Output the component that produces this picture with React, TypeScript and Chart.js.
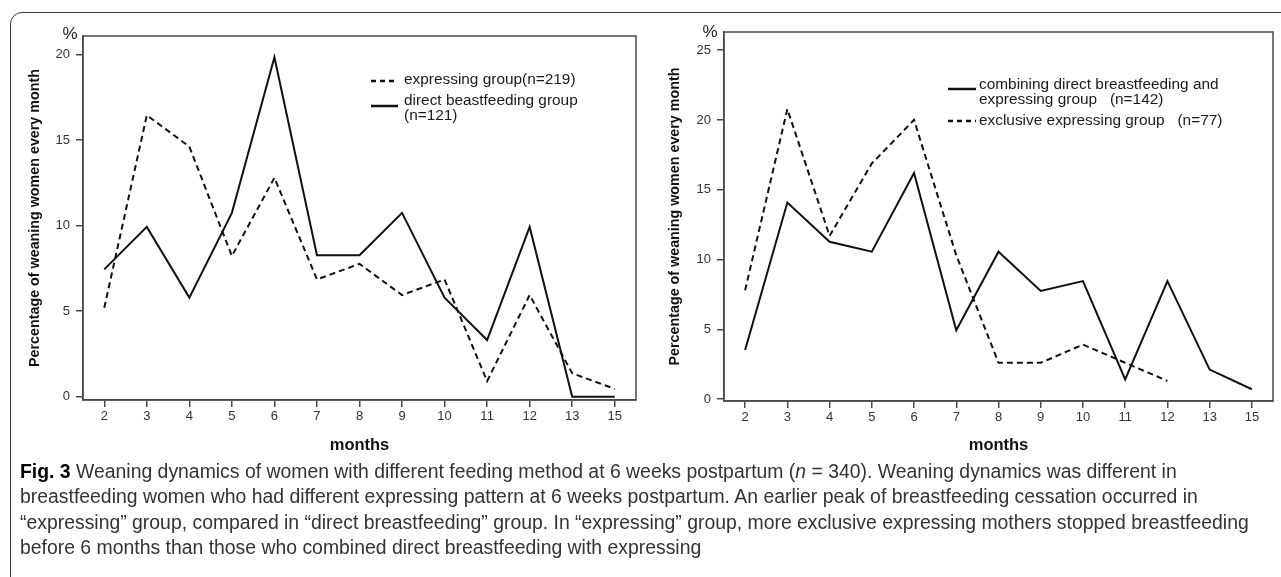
import React, { useEffect, useRef } from "react";
import { Chart, registerables } from "chart.js";

Chart.register(...registerables);

// ---------- data ----------
const months = ["2", "3", "4", "5", "6", "7", "8", "9", "10", "11", "12", "13", "15"];

// left panel (n = 340)
const expressingGroup = [5.2, 16.44, 14.61, 8.22, 12.79, 6.85, 7.76, 5.94, 6.85, 0.91, 5.94, 1.37, 0.46];
const directGroup = [7.44, 9.92, 5.79, 10.74, 19.83, 8.26, 8.26, 10.74, 5.79, 3.31, 9.92, 0, 0];

// right panel (expressing group split)
const combiningGroup = [3.52, 14.08, 11.27, 10.56, 16.2, 4.93, 10.56, 7.75, 8.45, 1.41, 8.45, 2.11, 0.7];
const exclusiveGroup: (number | null)[] = [7.79, 20.78, 11.69, 16.88, 20.0, 10.3, 2.6, 2.6, 3.9, 2.6, 1.3, null, null];

const leftYTicks = [0, 5, 10, 15, 20];
const rightYTicks = [0, 5, 10, 15, 20, 25];

const yTitle = "Percentage of weaning women every month";
const xTitle = "months";

const leftLegend = [
  { label: ["expressing group(n=219)"], dashed: true },
  { label: ["direct beastfeeding group", "(n=121)"], dashed: false },
];
const rightLegend = [
  { label: ["combining direct breastfeeding and", "expressing group   (n=142)"], dashed: false },
  { label: ["exclusive expressing group   (n=77)"], dashed: true },
];

// ---------- styling ----------
const FONT = "'Liberation Sans', Arial, Helvetica, sans-serif";
const AXIS = "#4a4a4a";
const LINE = "#111111";
const DASH = [6, 4];

type LegendItem = {
  x1: number; x2: number; y: number; dashed: boolean;
  textX: number; lines: { text: string; y: number }[];
};

const overlayPlugin = {
  id: "overlay",
  afterDraw(chart: any, _args: any, opts: any) {
    const { ctx, chartArea } = chart;
    ctx.save();
    ctx.strokeStyle = AXIS;
    ctx.lineWidth = 1.5;
    ctx.strokeRect(chartArea.left, chartArea.top, chartArea.right - chartArea.left, chartArea.bottom - chartArea.top);
    ctx.fillStyle = "#222";
    ctx.font = `17px ${FONT}`;
    ctx.textAlign = "center";
    ctx.textBaseline = "middle";
    ctx.fillText("%", opts.percent.x, opts.percent.y);
    const items: LegendItem[] = opts.legend || [];
    items.forEach((it) => {
      ctx.beginPath();
      ctx.strokeStyle = LINE;
      ctx.lineWidth = 2.5;
      ctx.setLineDash(it.dashed ? [5, 4] : []);
      ctx.moveTo(it.x1, it.y);
      ctx.lineTo(it.x2, it.y);
      ctx.stroke();
      ctx.setLineDash([]);
      ctx.fillStyle = "#1a1a1a";
      ctx.font = `15.4px ${FONT}`;
      ctx.textAlign = "left";
      ctx.textBaseline = "middle";
      it.lines.forEach((ln) => ctx.fillText(ln.text, it.textX, ln.y));
    });
    ctx.restore();
  },
};

function makeConfig(p: {
  solid: (number | null)[]; dashed: (number | null)[];
  solidLabel: string; dashedLabel: string;
  yMin: number; yMax: number; yTicks: number[];
  padding: { top: number; right: number; left: number; bottom: number };
  yWidth: number; xHeight: number;
  percent: { x: number; y: number }; legend: LegendItem[];
}) {
  const tickFont = { family: FONT, size: 13 };
  return {
    type: "line" as const,
    data: {
      labels: months,
      datasets: [
        {
          label: p.dashedLabel, data: p.dashed, borderColor: LINE, borderWidth: 2,
          borderDash: DASH, pointRadius: 0, tension: 0, fill: false, spanGaps: false,
        },
        {
          label: p.solidLabel, data: p.solid, borderColor: LINE, borderWidth: 2,
          pointRadius: 0, tension: 0, fill: false, spanGaps: false,
        },
      ],
    },
    options: {
      animation: false,
      responsive: false,
      maintainAspectRatio: false,
      devicePixelRatio: 1,
      layout: { padding: p.padding },
      plugins: {
        legend: { display: false },
        tooltip: { enabled: false },
        overlay: { percent: p.percent, legend: p.legend },
      },
      scales: {
        x: {
          type: "category",
          offset: true,
          grid: { display: true, drawOnChartArea: false, drawTicks: true, tickLength: 7, color: AXIS, lineWidth: 1.5, offset: false },
          border: { display: true, color: AXIS, width: 1.5 },
          ticks: { color: "#333", font: tickFont, padding: 2, maxRotation: 0, autoSkip: false },
          title: { display: true, text: xTitle, color: "#111", font: { family: FONT, size: 16.5, weight: "bold" }, padding: { top: 0, bottom: 4.3 } },
          afterFit: (s: any) => { s.height = p.xHeight; },
        },
        y: {
          type: "linear",
          min: p.yMin,
          max: p.yMax,
          grid: { display: true, drawOnChartArea: false, drawTicks: true, tickLength: 7, color: AXIS, lineWidth: 1.5 },
          border: { display: true, color: AXIS, width: 1.5 },
          ticks: { color: "#333", font: tickFont, padding: 6 },
          afterBuildTicks: (s: any) => { s.ticks = p.yTicks.map((v) => ({ value: v })); },
          title: { display: true, text: yTitle, color: "#111", font: { family: FONT, size: 14.3, weight: "bold" }, padding: { top: 26.4, bottom: 0 } },
          afterFit: (s: any) => { s.width = p.yWidth; },
        },
      },
    },
    plugins: [overlayPlugin],
  };
}

function ChartCanvas({ config, width, height }: { config: any; width: number; height: number }) {
  const ref = useRef<HTMLCanvasElement | null>(null);
  useEffect(() => {
    if (!ref.current) return;
    const chart = new Chart(ref.current, config);
    return () => chart.destroy();
  }, [config]);
  return <canvas ref={ref} width={width} height={height} style={{ width, height, display: "block" }} />;
}

const leftConfig = makeConfig({
  solid: directGroup, dashed: expressingGroup,
  solidLabel: "direct beastfeeding group (n=121)", dashedLabel: "expressing group(n=219)",
  yMin: -0.19, yMax: 21.07, yTicks: leftYTicks,
  padding: { top: 36, right: 4, left: 0, bottom: 0 },
  yWidth: 83, xHeight: 60,
  percent: { x: 70, y: 34 },
  legend: [
    { x1: 371, x2: 398, y: 81, dashed: leftLegend[0].dashed, textX: 404, lines: [{ text: leftLegend[0].label[0], y: 80 }] },
    { x1: 371, x2: 398, y: 106, dashed: leftLegend[1].dashed, textX: 404, lines: [{ text: leftLegend[1].label[0], y: 101 }, { text: leftLegend[1].label[1], y: 116 }] },
  ],
});

const rightConfig = makeConfig({
  solid: combiningGroup, dashed: exclusiveGroup,
  solidLabel: "combining direct breastfeeding and expressing group (n=142)", dashedLabel: "exclusive expressing group (n=77)",
  yMin: -0.14, yMax: 26.3, yTicks: rightYTicks,
  padding: { top: 32, right: 8, left: 0, bottom: 0 },
  yWidth: 84, xHeight: 59,
  percent: { x: 70, y: 32 },
  legend: [
    { x1: 308, x2: 336, y: 89, dashed: rightLegend[0].dashed, textX: 339, lines: [{ text: rightLegend[0].label[0], y: 84.5 }, { text: rightLegend[0].label[1], y: 100 }] },
    { x1: 308, x2: 336, y: 121, dashed: rightLegend[1].dashed, textX: 339, lines: [{ text: rightLegend[1].label[0], y: 121 }] },
  ],
});

export default function App() {
  return (
    <div style={{ position: "absolute", left: 0, top: 0, width: 1281, height: 577, overflow: "hidden", background: "#fff" }}>
      <div style={{ position: "absolute", left: 10, top: 12, width: 1400, height: 700, border: "1.5px solid #3a3a3a", borderTopLeftRadius: 12, boxSizing: "border-box" }} />
      <div style={{ position: "absolute", left: 0, top: 0 }}>
        <ChartCanvas config={leftConfig} width={640} height={460} />
      </div>
      <div style={{ position: "absolute", left: 640, top: 0 }}>
        <ChartCanvas config={rightConfig} width={641} height={460} />
      </div>
      <div style={{ position: "absolute", left: 20, top: 459, fontFamily: FONT, fontSize: 19.4, lineHeight: "25.3px", color: "#333", whiteSpace: "nowrap" }}>
        <div><b style={{ color: "#000" }}>Fig. 3</b> Weaning dynamics of women with different feeding method at 6 weeks postpartum (<i>n</i> = 340). Weaning dynamics was different in</div>
        <div>breastfeeding women who had different expressing pattern at 6 weeks postpartum. An earlier peak of breastfeeding cessation occurred in</div>
        <div>“expressing” group, compared in “direct breastfeeding” group. In “expressing” group, more exclusive expressing mothers stopped breastfeeding</div>
        <div>before 6 months than those who combined direct breastfeeding with expressing</div>
      </div>
    </div>
  );
}
